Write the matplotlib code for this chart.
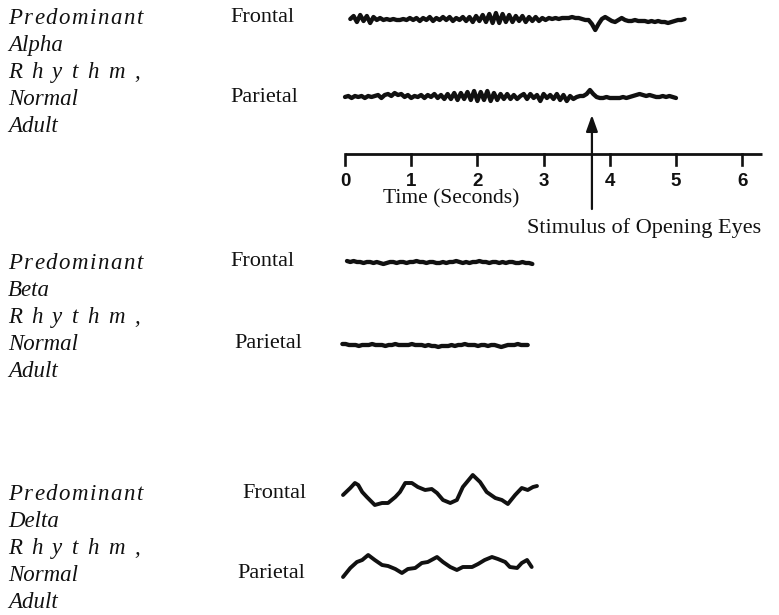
import numpy as np
import matplotlib
matplotlib.use("Agg")
import matplotlib.pyplot as plt
from matplotlib.transforms import Affine2D

# ---------------- data ----------------
# Alpha rhythm traces: amplitude samples (px, up = positive), uniform sampling in seconds
alpha_dt = 0.05
alpha_frontal_t0 = 0.08
alpha_frontal = [0, 3, -3, 4, -2, 3, -4, 2,
                 -1, 1, -1, 0, -1, 0, -1, -1, 0, -1, 1, -1, 1, -2, 1, -1, 2, -2, 1, -1, 2, -1, 2, -2, 1, -1, 2, -2, 2,
                 -3, 3, -2, 4, -3, 5, -4, 6, -4, 5, -3, 4, -3, 3, -2, 3, -3, 2, -2, 2, -2,
                 1, -1, 1, 0, 1, 0, 1, 1, 1, 2, 1, 1, 0, -1,
                 -1, -5, -11, -5, 0, 2, 0,
                 -2, -3, -1, 1, -1, -2, -2, -1, -2, -2, -2, -3, -2, -3, -2, -3, -3, -4, -3, -2, -1, -1, 0]
alpha_parietal_t0 = 0.0
alpha_parietal = [0, 1, -1, 1, 0, 1, -1, 1, 0, 1, 2, -1, 2, 3, 1,
                  4, 2, 3, 0, 2, -1, 1, 0, 2, -1, 2, 0, 3, -1, 2,
                  -2, 3, -2, 4, -3, 4, -2, 5, -3, 6, -4, 5, -3, 6, -4, 4, -3, 3, -2, 3, -2,
                  2, -2, 1, 3, -2, 3, -1, 2, -4, 3, -1, 2, -2, 3, -3, 2, -4,
                  1, -2, 0, 1, 1, 3, 7, 3, 0, -1, -1, 0, -1,
                  -1, -1, -1, 0, -1, 0, 1, 2, 3, 2, 1, 2, 1, 0, 0, 1, 0, 1, 0, -1]

# Beta rhythm traces
beta_dt = 0.05
beta_frontal_t0 = 0.03
beta_frontal = [1, 0, 1, 0, 0, -1, 0, 0, -1, 0, -1, -2, -1, 0, 0, -1, 0, 0, -1, 0, 0, 1, 0, 0, -1, 0, 0, -1, -1,
                0, -1, 0, 0, 1, 0, -1, 0, -1, 0, 0, 1, 0, 0, -1, 0, 0, -1, 0, -1, 0, 0, -1, -1, 0, -1, -1, -2]
beta_parietal_t0 = -0.04
beta_parietal = [1, 1, 0, 0, 0, -1, 0, 0, 0, 1, 0, 0, 0, -1, 0, 0, 1, 0, 0, 0, 0, 1, 0, 0, 0, -1, 0, -1, -1,
                 -2, -1, -1, -1, 0, -1, 0, 0, 1, 0, 0, 0, -1, 0, 0, -1, 0, 0, -1, -2, -1, 0, 0, 0, 1, 0, 0, 0]

# Delta rhythm traces (time in seconds, amplitude px)
delta_frontal_t = [-0.03, 0.08, 0.15, 0.20, 0.26, 0.33, 0.45, 0.56, 0.65, 0.76, 0.83, 0.91, 1.01, 1.10, 1.21, 1.31,
                   1.39, 1.48, 1.59, 1.69, 1.78, 1.93, 2.04, 2.14, 2.27, 2.37, 2.46, 2.57, 2.67, 2.76, 2.84, 2.90]
delta_frontal = [-2, 5, 10, 8, 1, -4, -12, -10, -10, -4, 1, 10, 10, 6, 3, 4,
                 0, -7, -10, -7, 6, 18, 11, 1, -5, -7, -11, -2, 5, 3, 6, 7]
delta_parietal_t = [-0.03, 0.08, 0.18, 0.26, 0.35, 0.45, 0.56, 0.65, 0.76, 0.86, 0.95, 1.06, 1.16, 1.25, 1.39,
                    1.48, 1.59, 1.69, 1.78, 1.92, 2.01, 2.11, 2.22, 2.31, 2.42, 2.49, 2.60, 2.67, 2.75, 2.82]
delta_parietal = [-12, -3, 3, 5, 10, 5, 0, -1, -4, -8, -4, -3, 2, 3, 8,
                  3, -2, -5, -2, -2, 1, 5, 8, 6, 3, -2, -3, 2, 5, -2]

tick_values = [0, 1, 2, 3, 4, 5, 6]
tick_labels = ["0", "1", "2", "3", "4", "5", "6"]
axis_end = 6.3
stimulus_time = 3.73

group_labels = [["Predominant", "Alpha", "R h y t h m ,", "Normal", "Adult"],
                ["Predominant", "Beta", "R h y t h m ,", "Normal", "Adult"],
                ["Predominant", "Delta", "R h y t h m ,", "Normal", "Adult"]]
site_labels = ["Frontal", "Parietal"]
time_label = "Time (Seconds)"
stimulus_label = "Stimulus of Opening Eyes"

# ---------------- layout ----------------
W, H = 779, 615
PX_PER_S = 66.2
T0_PX = 345
INK = "#111111"

fig = plt.figure(figsize=(W / 100, H / 100), dpi=100)
ax = fig.add_axes([0, 0, 1, 1])
ax.set_xlim(-T0_PX / PX_PER_S, (W - T0_PX) / PX_PER_S)
ax.set_ylim(H, 0)
ax.axis("off")

PX = Affine2D().scale(1, -1).translate(0, H)  # pixel coords, origin top-left


def trace_uniform(t0, dt, vals, base, lw):
    v = np.asarray(vals, dtype=float)
    t = t0 + dt * np.arange(len(v))
    ax.plot(t, base - v, color=INK, lw=lw, solid_joinstyle="round", solid_capstyle="round")


def trace_xy(ts, vals, base, lw):
    ax.plot(ts, base - np.asarray(vals, dtype=float), color=INK, lw=lw,
            solid_joinstyle="round", solid_capstyle="round")


trace_uniform(alpha_frontal_t0, alpha_dt, alpha_frontal, 19, 3.1)
trace_uniform(alpha_parietal_t0, alpha_dt, alpha_parietal, 97, 3.1)
trace_uniform(beta_frontal_t0, beta_dt, beta_frontal, 262, 3.1)
trace_uniform(beta_parietal_t0, beta_dt, beta_parietal, 345, 3.1)
trace_xy(delta_frontal_t, delta_frontal, 493, 2.8)
trace_xy(delta_parietal_t, delta_parietal, 565, 2.8)

# time axis
axis_y = 154
ax.plot([tick_values[0], axis_end], [axis_y, axis_y], color=INK, lw=2.0, solid_capstyle="butt")
for v, lab in zip(tick_values, tick_labels):
    ax.plot([v, v], [axis_y, axis_y + 11], color=INK, lw=1.9)
    ax.text(v, 182, lab, ha="center", va="center", fontsize=13.5, fontweight="bold",
            family="Liberation Sans", color=INK)

ax.annotate("", xy=(stimulus_time, 115), xytext=(stimulus_time, 209),
            arrowprops=dict(arrowstyle="-|>,head_length=0.7,head_width=0.25", lw=1.6,
                            color=INK, shrinkA=0, shrinkB=0, mutation_scale=14))

fig.text(451, 199, time_label, transform=PX, ha="center", va="center",
         fontsize=15.5, family="Liberation Serif", color=INK)
fig.text(527, 228, stimulus_label, transform=PX, ha="left", va="center",
         fontsize=16, family="Liberation Serif", color=INK)

# left labels
renderer = fig.canvas.get_renderer()
ITAL = dict(fontsize=16.5, family="Liberation Serif", style="italic", color=INK)


def tracked(x, y, s, target_w):
    objs = []
    widths = []
    fs_px = ITAL["fontsize"] * 100 / 72
    for ch in s:
        if ch == " ":
            objs.append(None)
            widths.append(0.25 * fs_px)
        else:
            t = fig.text(x, y, ch, transform=PX, ha="left", va="baseline", **ITAL)
            objs.append(t)
            widths.append(t.get_window_extent(renderer).width)
    gap = (target_w - sum(widths)) / max(len(s) - 1, 1)
    cx = x
    for t, w in zip(objs, widths):
        if t is not None:
            t.set_position((cx, y))
        cx += w + gap


group_tops = [17, 262, 493]
row_step = 27
for labels, top in zip(group_labels, group_tops):
    for i, lab in enumerate(labels):
        yb = top + i * row_step + 7
        if lab == "Predominant":
            tracked(8, yb, lab, 135)
        elif lab.startswith("R h"):
            tracked(8, yb, lab, 132)
        else:
            fig.text(8, yb, lab, transform=PX, ha="left", va="baseline", **ITAL)

site_pos = [[(230, 17), (230, 98)], [(230, 262), (234, 343)], [(242, 493), (237, 573)]]
for pos in site_pos:
    for lab, (x, y) in zip(site_labels, pos):
        fig.text(x, y, lab, transform=PX, ha="left", va="center",
                 fontsize=16, family="Liberation Serif", color=INK)

fig.savefig("out.png", dpi=100)
